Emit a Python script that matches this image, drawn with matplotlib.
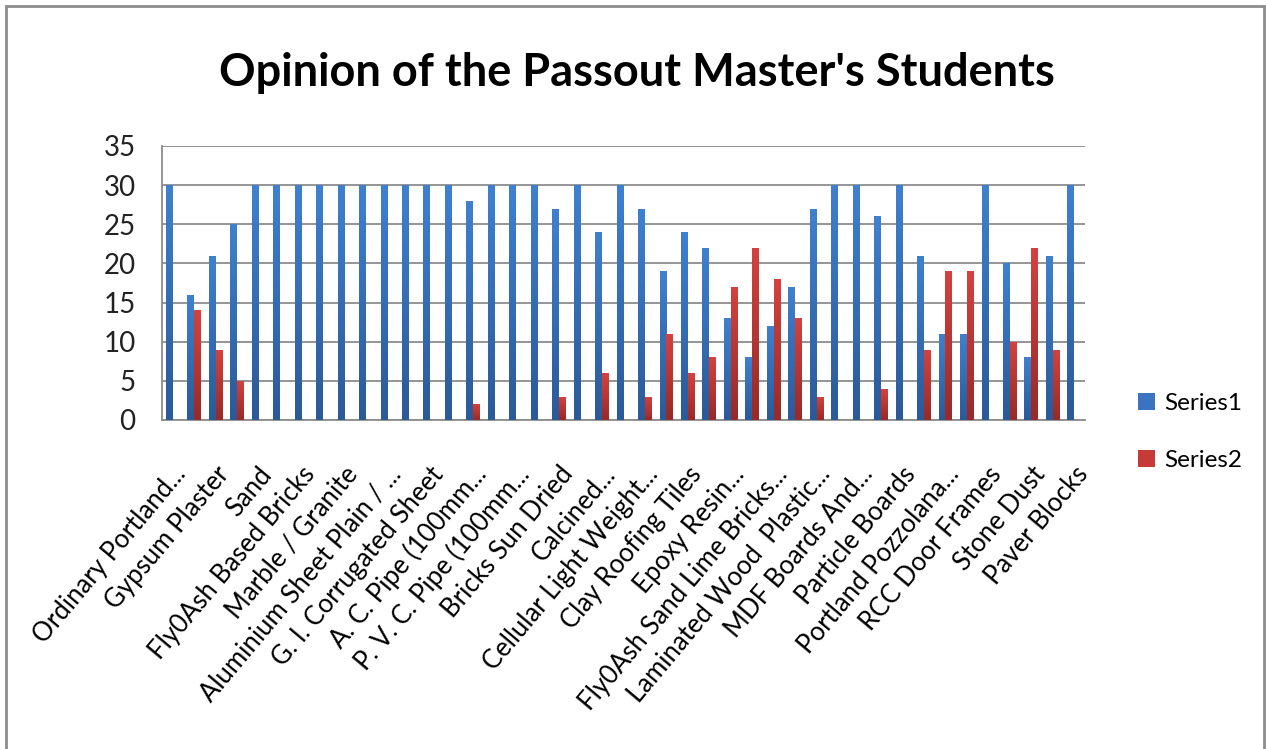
import numpy as np
import matplotlib.pyplot as plt
from matplotlib import font_manager
from matplotlib.colors import LinearSegmentedColormap
from matplotlib.patches import Rectangle
from matplotlib.transforms import ScaledTranslation

# pick a narrow Calibri-like face if there is one
names = {f.name for f in font_manager.fontManager.ttflist}
face = 'Liberation Sans Narrow' if 'Liberation Sans Narrow' in names else 'Lato'
plt.rcParams['font.family'] = [face, 'DejaVu Sans']

# only every second category is labelled on the axis
labels = ['Ordinary Portland...', 'Gypsum Plaster', 'Sand', 'Fly0Ash Based Bricks',
          'Marble / Granite', 'Aluminium Sheet Plain / ...', 'G. I. Corrugated Sheet',
          'A. C. Pipe (100mm...', 'P. V. C. Pipe (100mm...', 'Bricks Sun Dried',
          'Calcined...', 'Cellular Light Weight...', 'Clay Roofing Tiles',
          'Epoxy Resin...', 'Fly0Ash Sand Lime Bricks...', 'Laminated Wood  Plastic...',
          'MDF Boards And...', 'Particle Boards', 'Portland Pozzolana...',
          'RCC Door Frames', 'Stone Dust', 'Paver Blocks']

series1 = [30, 16, 21, 25, 30, 30, 30, 30, 30, 30, 30, 30, 30, 30, 28, 30, 30, 30, 27, 30, 24,
           30, 27, 19, 24, 22, 13, 8, 12, 17, 27, 30, 30, 26, 30, 21, 11, 11, 30, 20, 8, 21, 30]
series2 = [0, 14, 9, 5, 0, 0, 0, 0, 0, 0, 0, 0, 0, 0, 2, 0, 0, 0, 3, 0, 6,
           0, 3, 11, 6, 8, 17, 22, 18, 13, 3, 0, 0, 4, 0, 9, 19, 19, 0, 10, 22, 9, 0]

x = np.arange(len(series1))
w = 0.32

fig = plt.figure(figsize=(12.66, 7.49), dpi=100)
ax = fig.add_axes([162 / 1266, 1 - 420 / 749, (1085 - 162) / 1266, (420 - 146) / 749])

blue = LinearSegmentedColormap.from_list('b', ['#2B5A98', '#3F80CF'])
red = LinearSegmentedColormap.from_list('r', ['#982A27', '#D4423E'])
grad = np.linspace(0, 1, 100).reshape(-1, 1)

b1 = ax.bar(x - w / 2, series1, w, color='#3A74C0', label='Series1', zorder=3)
b2 = ax.bar(x + w / 2, series2, w, color='#C63A37', label='Series2', zorder=3)

# excel style vertical shading on each bar
for bars, cm in [(b1, blue), (b2, red)]:
    for p in bars:
        h = p.get_height()
        if h <= 0:
            continue
        x0 = p.get_x()
        im = ax.imshow(grad, cmap=cm, origin='lower', aspect='auto', zorder=4,
                       extent=[x0, x0 + p.get_width(), 0, h])
        im.set_clip_path(p)

ax.set_xlim(-0.5, len(series1) - 0.5)
ax.set_ylim(0, 35)
ax.set_yticks(range(0, 36, 5))
ax.yaxis.grid(True, color='#8C8C8C', linewidth=1.3, zorder=0)
ax.set_axisbelow(True)

ax.set_xticks(x[::2])
ax.set_xticklabels(labels, rotation=50, ha='right', va='center',
                   rotation_mode='anchor', fontsize=18.5)
ax.tick_params(axis='x', length=0, pad=36)
ax.tick_params(axis='y', length=0, pad=19, labelsize=20, labelcolor='#222222')
shift = ScaledTranslation(9 / 100, 0, fig.dpi_scale_trans)
for lbl in ax.get_xticklabels():
    lbl.set_transform(lbl.get_transform() + shift)

for s in ['top', 'right']:
    ax.spines[s].set_visible(False)
for s in ['left', 'bottom']:
    ax.spines[s].set_color('#8C8C8C')
    ax.spines[s].set_linewidth(1.3)

fig.text(0.503, 0.902, "Opinion of the Passout Master's Students",
         ha='center', va='center', fontsize=32.5, fontweight='bold')

fig.legend(loc='center left', bbox_to_anchor=(1116 / 1266, 1 - 432 / 749),
           frameon=False, fontsize=17.5, handlelength=0.7, handleheight=0.7,
           labelspacing=1.5, handletextpad=0.4)

fig.patches.append(Rectangle((6 / 1266, -0.02), 1258 / 1266, 1.02 - 6 / 749,
                             transform=fig.transFigure, fill=False,
                             edgecolor='#8C8C8C', linewidth=2))

fig.savefig('out.png', dpi=100)
